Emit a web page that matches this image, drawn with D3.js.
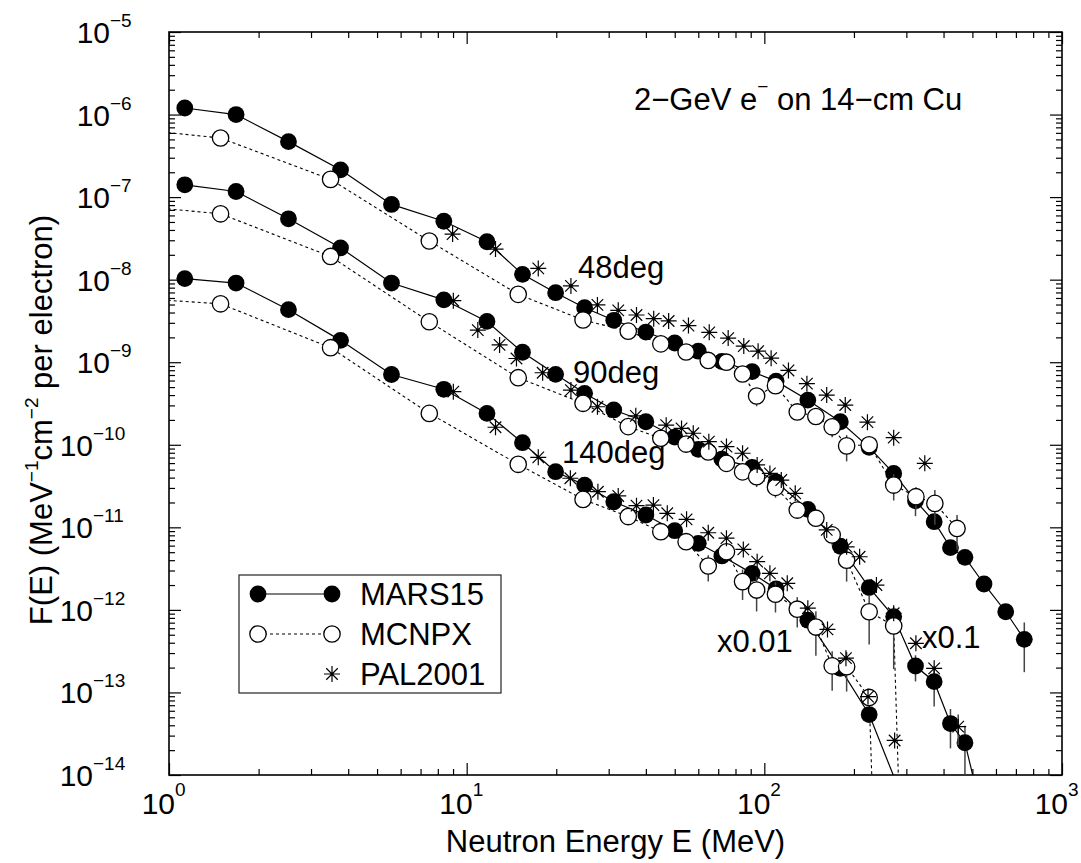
<!DOCTYPE html>
<html>
<head>
<meta charset="utf-8">
<script src="https://cdn.jsdelivr.net/npm/d3@7"></script>
<style>
body { margin: 0; background: #fff; }
text { font-family: "Liberation Sans", Arial, sans-serif; fill: #000; }
</style>
</head>
<body>
<div id="chart"></div>
<script>
"use strict";

// points are [E (MeV), F(E) as plotted, relative error (optional)]
// 90deg is plotted x0.1, 140deg is plotted x0.01
var mars48 = [[1.13,1.2e-6],[1.68,1.0e-6],[2.52,4.7e-7],[3.77,2.14e-7],[5.59,8.15e-8],[8.38,5.1e-8],
    [11.7,2.88e-8],[15.4,1.16e-8],[19.9,6.95e-9],[24.9,4.57e-9],[31.2,3.22e-9],[40,2.32e-9],[50,1.71e-9],
    [60,1.36e-9],[72,1.02e-9],[91,7.7e-10],[109.5,5.9e-10],[140,3.48e-10],[180,1.9e-10],[225,9.3e-11],
    [272,4.5e-11],[322,2.1e-11,0.35],[372,1.17e-11],[422,5.67e-12],[472,4.33e-12],[547,2.06e-12],
    [647,9.5e-13],[747,4.4e-13,0.6]];
var mcnp48 = [[0.75,6.7e-7],[1.49,5.2e-7],[3.49,1.64e-7],[7.49,2.94e-8],[14.9,6.64e-9],[24.6,3.25e-9],
    [34.9,2.38e-9],[44.9,1.67e-9],[54.6,1.33e-9],[64.8,1.05e-9],[74.6,1.0e-9],[84.5,7.2e-10],
    [94.2,3.9e-10,0.25],[109,5.2e-10],[129,2.5e-10,0.2],[149,2.2e-10,0.2],[169,1.65e-10,0.25],
    [189,9.7e-11,0.35],[225,1.0e-10],[272,3.25e-11,0.35],[323,2.35e-11,0.3],[374,1.95e-11,0.45],
    [444,9.7e-12,0.45]];
var pal48 = [[8.97,3.57e-8],[12.5,2.35e-8],[17.4,1.37e-8],[22.4,8.4e-9],[27.5,4.95e-9],[32.3,4.25e-9],
    [37.2,3.73e-9],[42.5,3.37e-9],[47.7,3.16e-9],[55.6,2.78e-9],[65.3,2.3e-9],[75.6,1.96e-9],
    [85.3,1.57e-9],[95.3,1.36e-9],[105.4,1.12e-9],[120.5,7.95e-10],[139,5.5e-10],[162,4.0e-10],
    [187,3.03e-10],[222,1.88e-10],[272,1.22e-10],[346,5.96e-11]];

var mars90 = [[1.13,1.41e-7],[1.68,1.17e-7],[2.52,5.46e-8],[3.77,2.43e-8],[5.59,9.1e-9],[8.38,5.7e-9],
    [11.7,3.12e-9],[15.4,1.32e-9],[19.9,7.13e-10],[24.9,4.2e-10],[31.2,2.64e-10],[40,1.9e-10],
    [50,1.24e-10],[60,8.8e-11],[72,6.7e-11],[91,5.33e-11],[109.5,3.56e-11],[140,1.65e-11],[180,5.9e-12],
    [225,1.86e-12],[272,8.3e-13],[322,2.09e-13,0.35],[372,1.35e-13,0.5],[422,4.2e-14,0.5],
    [472,2.46e-14,0.6],[547,2.7e-15]];
var mcnp90 = [[0.75,7.9e-8],[1.49,6.28e-8],[3.49,1.91e-8],[7.49,3.09e-9],[14.9,6.49e-10],[24.6,3.18e-10],
    [34.9,1.66e-10],[44.9,1.2e-10],[54.6,1.02e-10],[64.8,8.2e-11],[74.6,5.96e-11],[84.5,4.7e-11],
    [94.2,4.1e-11,0.25],[109,3.05e-11,0.25],[129,1.62e-11],[149,1.29e-11,0.2],[169,8.1e-12,0.25],
    [189,4.0e-12,0.45],[225,9.5e-13,0.6],[272,6.4e-13,0.7],[322,2e-21]];
var pal90 = [[9.02,5.56e-9],[10.9,2.45e-9],[12.9,1.62e-9],[14.7,1.11e-9],[18.0,7.46e-10],[22.4,4.6e-10],
    [27.5,2.89e-10],[37,2.24e-10],[46.8,1.73e-10],[52.7,1.58e-10],[57.7,1.38e-10],[65.1,1.09e-10],
    [74.6,9.5e-11],[84.5,7.9e-11],[94.6,5.7e-11],[104.4,4.5e-11],[114,3.74e-11],[127,2.58e-11],
    [162,9.3e-12],[189,5.8e-12],[209,4.4e-12],[238,2.0e-12],[272,9.1e-13],[323,3.94e-13],
    [372,1.96e-13],[448,3.85e-14,0.4]];

var mars140 = [[1.13,1.03e-8],[1.68,9.1e-9],[2.52,4.33e-9],[3.77,1.84e-9],[5.59,7.1e-10],[8.38,4.7e-10],
    [11.7,2.4e-10],[15.4,1.06e-10],[19.9,4.72e-11],[24.9,3.25e-11],[31.2,2.04e-11],[40,1.41e-11],
    [50,9.1e-12],[60,6.4e-12],[72,4.5e-12],[91,2.77e-12],[109.5,1.8e-12],[140,7.5e-13],[180,1.96e-13],
    [225,5.4e-14],[322,2.1e-15]];
var mcnp140 = [[0.75,6.0e-9],[1.49,5.1e-9],[3.49,1.5e-9],[7.49,2.4e-10],[14.9,5.8e-11],[24.6,2.18e-11],
    [34.9,1.35e-11],[44.9,8.85e-12,0.2],[54.6,6.7e-12,0.2],[64.8,3.4e-12,0.35],[74.6,5.06e-12],
    [84.5,2.2e-12,0.4],[94.2,1.74e-12,0.45],[109,1.55e-12,0.4],[129,1.02e-12,0.4],[149,6.2e-13,0.55],
    [169,2.1e-13,0.5],[189,2.05e-13,0.5],[225,8.7e-14],[272,1e-22]];
var pal140 = [[9.02,4.4e-10],[12.5,1.63e-10],[17.4,7.04e-11],[22.3,3.93e-11],[27.6,2.7e-11],[32.3,2.4e-11],
    [37.2,1.83e-11],[42.4,1.86e-11],[47.2,1.48e-11],[54.8,1.25e-11],[64.8,8.6e-12],[74.6,7.4e-12],
    [85,5.4e-12],[94.6,3.84e-12],[104.4,2.77e-12],[119.4,2.1e-12],[140,1.05e-12],[163,5.8e-13],
    [188,2.6e-13],[223,8.9e-14],[274,2.62e-14]];

var xExponents = [0, 1, 2, 3];
var yExponents = [-5, -6, -7, -8, -9, -10, -11, -12, -13, -14];
var legendNames = ["MARS15", "MCNPX", "PAL2001"];
var curveLabels = [
    {text: "48deg", x: 578, y: 278},
    {text: "90deg", x: 573, y: 383},
    {text: "140deg", x: 562, y: 463},
    {text: "x0.01", x: 717, y: 652},
    {text: "x0.1", x: 922, y: 648}
];

// -----------------------------------------------------------------------
var margin = {top: 32, right: 19, bottom: 88, left: 169};
var width = 1081 - margin.left - margin.right;
var height = 863 - margin.top - margin.bottom;

var svg = d3.select("#chart").append("svg")
    .attr("width", 1081)
    .attr("height", 863);

var g = svg.append("g")
    .attr("transform", "translate(" + margin.left + "," + margin.top + ")");

var xScale = d3.scaleLog().domain([1, 1000]).range([0, width]);
var yScale = d3.scaleLog().domain([1e-14, 1e-5]).range([height, 0]);

g.append("clipPath").attr("id", "plotclip")
    .append("rect").attr("width", width).attr("height", height);

// ticks
function minorTicks(lo, hi) {
    var t = [];
    for (var p = lo; p < hi; p++) {
        for (var k = 2; k <= 9; k++) t.push(k * Math.pow(10, p));
    }
    return t;
}
var xMajor = xExponents.map(function (p) { return Math.pow(10, p); });
var yMajor = yExponents.map(function (p) { return Math.pow(10, p); });
var xMinor = minorTicks(0, 3);
var yMinor = minorTicks(-14, -5);

function tickAxis(axis, vals, size, transform) {
    var a = g.append("g").attr("class", "ticks")
        .attr("transform", transform || null)
        .call(axis.tickValues(vals).tickSize(size).tickSizeOuter(0).tickFormat(""));
    a.select(".domain").remove();
    a.selectAll("line").attr("stroke", "#000").attr("stroke-width", 1.2);
}
tickAxis(d3.axisBottom(xScale), xMajor, -12, "translate(0," + height + ")");
tickAxis(d3.axisBottom(xScale), xMinor, -6, "translate(0," + height + ")");
tickAxis(d3.axisTop(xScale), xMajor, -12);
tickAxis(d3.axisTop(xScale), xMinor, -6);
tickAxis(d3.axisLeft(yScale), yMajor, -12);
tickAxis(d3.axisLeft(yScale), yMinor, -6);
tickAxis(d3.axisRight(yScale), yMajor, -12, "translate(" + width + ",0)");
tickAxis(d3.axisRight(yScale), yMinor, -6, "translate(" + width + ",0)");

g.append("rect")
    .attr("width", width).attr("height", height)
    .attr("fill", "none").attr("stroke", "#000").attr("stroke-width", 1.6);

// tick labels
yExponents.forEach(function (p) {
    var yy = margin.top + yScale(Math.pow(10, p));
    var xe = (p <= -10) ? 93 : 110;
    svg.append("text").attr("x", xe).attr("y", yy + 11)
        .attr("text-anchor", "end").style("font-size", "30px").text("10");
    svg.append("text").attr("x", xe).attr("y", yy - 5)
        .style("font-size", "19px").text("\u2212" + Math.abs(p));
});
xExponents.forEach(function (p) {
    var xx = margin.left + xScale(Math.pow(10, p));
    svg.append("text").attr("x", xx + 6).attr("y", 814)
        .attr("text-anchor", "end").style("font-size", "30px").text("10");
    svg.append("text").attr("x", xx + 6).attr("y", 796)
        .style("font-size", "19px").text(String(p));
});

// axis titles
svg.append("text")
    .attr("x", margin.left + width / 2).attr("y", 852)
    .attr("text-anchor", "middle").style("font-size", "31px")
    .text("Neutron Energy E (MeV)");

var yTitle = svg.append("text")
    .attr("transform", "translate(52,420)rotate(-90)")
    .attr("text-anchor", "middle").style("font-size", "31px");
yTitle.append("tspan").text("F(E) (MeV");
yTitle.append("tspan").attr("dy", -14).style("font-size", "19px").text("\u22121");
yTitle.append("tspan").attr("dy", 14).text("cm");
yTitle.append("tspan").attr("dy", -14).style("font-size", "19px").text("\u22122");
yTitle.append("tspan").attr("dy", 14).text(" per electron)");

// title
var title = svg.append("text").attr("x", 634).attr("y", 110).style("font-size", "31px");
title.append("tspan").text("2\u2212GeV e");
title.append("tspan").attr("dy", -17).style("font-size", "19px").text("\u2212");
title.append("tspan").attr("dy", 17).text(" on 14\u2212cm Cu");

curveLabels.forEach(function (c) {
    svg.append("text").attr("x", c.x).attr("y", c.y).style("font-size", "31px").text(c.text);
});

// -----------------------------------------------------------------------
var plot = g.append("g").attr("clip-path", "url(#plotclip)");

var line = d3.line()
    .x(function (d) { return xScale(d[0]); })
    .y(function (d) { return yScale(d[1]); });

function drawErrors(data) {
    plot.append("g").selectAll("line")
        .data(data.filter(function (d) { return d[2]; }))
        .enter().append("line")
        .attr("x1", function (d) { return xScale(d[0]); })
        .attr("x2", function (d) { return xScale(d[0]); })
        .attr("y1", function (d) { return yScale(d[1] * (1 + d[2])); })
        .attr("y2", function (d) { return yScale(d[1] * (1 - d[2])); })
        .attr("stroke", "#444").attr("stroke-width", 1.5);
}

function asteriskPath(s) {
    var d = s * 0.72;
    return "M0," + (-s) + "V" + s + "M" + (-s) + ",0H" + s +
        "M" + (-d) + "," + (-d) + "L" + d + "," + d +
        "M" + (-d) + "," + d + "L" + d + "," + (-d);
}

var rFill = 8.4, rOpen = 8.2, aSize = 8;

function drawMars(data) {
    plot.append("path").datum(data).attr("d", line)
        .attr("fill", "none").attr("stroke", "#000").attr("stroke-width", 1.2);
    drawErrors(data);
    plot.append("g").selectAll("circle").data(data).enter().append("circle")
        .attr("cx", function (d) { return xScale(d[0]); })
        .attr("cy", function (d) { return yScale(d[1]); })
        .attr("r", rFill).attr("fill", "#000");
}

function drawMcnp(data) {
    plot.append("path").datum(data).attr("d", line)
        .attr("fill", "none").attr("stroke", "#000").attr("stroke-width", 1.1)
        .attr("stroke-dasharray", "3,3");
    drawErrors(data);
    plot.append("g").selectAll("circle").data(data).enter().append("circle")
        .attr("cx", function (d) { return xScale(d[0]); })
        .attr("cy", function (d) { return yScale(d[1]); })
        .attr("r", rOpen).attr("fill", "#fff").attr("stroke", "#000").attr("stroke-width", 1.3);
}

function drawPal(data) {
    drawErrors(data);
    var s = plot.append("g").selectAll("g").data(data).enter().append("g")
        .attr("transform", function (d) {
            return "translate(" + xScale(d[0]) + "," + yScale(d[1]) + ")";
        });
    s.append("path").attr("d", asteriskPath(aSize))
        .attr("stroke", "#000").attr("stroke-width", 1.2).attr("fill", "none");
    s.append("circle").attr("r", 1.7).attr("fill", "#000");
}

[mars48, mars90, mars140].forEach(drawMars);
[mcnp48, mcnp90, mcnp140].forEach(drawMcnp);
[pal48, pal90, pal140].forEach(drawPal);

// -----------------------------------------------------------------------
// legend
var legend = svg.append("g").attr("transform", "translate(239,575)");
legend.append("rect").attr("width", 262).attr("height", 118)
    .attr("fill", "#fff").attr("stroke", "#333").attr("stroke-width", 1.3);

var rowY = [19, 59, 99];
legend.append("line").attr("x1", 19).attr("x2", 93).attr("y1", rowY[0]).attr("y2", rowY[0])
    .attr("stroke", "#000").attr("stroke-width", 1.2);
legend.selectAll("circle.m").data([19, 93]).enter().append("circle")
    .attr("cx", function (d) { return d; }).attr("cy", rowY[0]).attr("r", rFill).attr("fill", "#000");
legend.append("line").attr("x1", 19).attr("x2", 93).attr("y1", rowY[1]).attr("y2", rowY[1])
    .attr("stroke", "#000").attr("stroke-width", 1.1).attr("stroke-dasharray", "3,3");
legend.selectAll("circle.o").data([19, 93]).enter().append("circle")
    .attr("cx", function (d) { return d; }).attr("cy", rowY[1]).attr("r", rOpen)
    .attr("fill", "#fff").attr("stroke", "#000").attr("stroke-width", 1.3);
legend.append("path").attr("transform", "translate(93," + rowY[2] + ")")
    .attr("d", asteriskPath(aSize)).attr("stroke", "#000").attr("stroke-width", 1.2);

legend.selectAll("text").data(legendNames).enter().append("text")
    .attr("x", 121).attr("y", function (d, i) { return rowY[i] + 11; })
    .style("font-size", "31px").text(function (d) { return d; });
</script>
</body>
</html>
